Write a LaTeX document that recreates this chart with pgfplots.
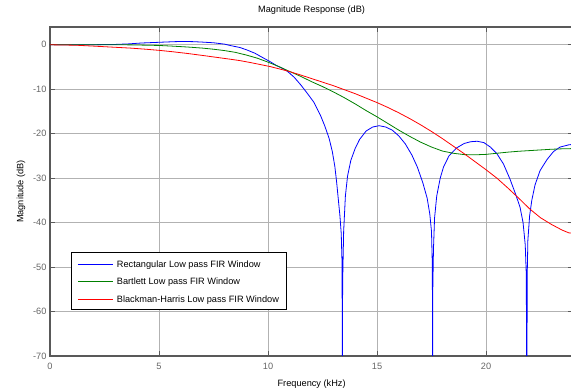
\documentclass[border=0pt]{standalone}
\usepackage{fontspec}
\setmainfont{Liberation Sans}
\usepackage{pgfplots}
\pgfplotsset{compat=1.18}
\usepackage{pgfplotstable}

% Magnitude responses (dB) of three low pass FIR designs, frequency in kHz
\pgfplotstableread{
f db
0 0
1 0
2 0.02
3 0.08
3.6 0.2
4.2 0.4
4.7 0.5
5.2 0.6
5.7 0.7
6.1 0.75
6.6 0.7
7.0 0.6
7.5 0.45
8.0 0.15
8.3 -0.2
8.7 -0.6
9.0 -1.1
9.4 -1.9
9.8 -3.0
10.1 -3.8
10.4 -4.7
10.7 -5.4
10.9 -6.0
11.2 -7.3
11.5 -9.0
11.8 -10.9
12.1 -12.9
12.4 -15.8
12.6 -18.2
12.8 -21.0
12.95 -24.0
13.07 -27.5
13.15 -31
13.23 -35
13.3 -38.5
13.36 -42.5
13.39 -48
13.405 -60
13.41 -95
13.415 -60
13.43 -52
13.47 -42
13.55 -34
13.65 -29.5
13.8 -26
14.0 -23.3
14.2 -21.3
14.5 -19.4
14.8 -18.5
15.1 -18.2
15.4 -18.5
15.7 -19.2
16.0 -20.5
16.3 -22.3
16.6 -24.8
16.85 -27.5
17.1 -31
17.3 -34.5
17.42 -38
17.5 -42
17.54 -50
17.55 -95
17.56 -55
17.59 -46
17.64 -39
17.74 -34
17.9 -30
18.05 -27.5
18.3 -25
18.65 -23.2
19.0 -22.2
19.3 -21.8
19.6 -21.7
19.9 -22
20.2 -23
20.5 -24.5
20.8 -26.8
21.1 -30.2
21.35 -33.5
21.56 -36.5
21.7 -40
21.8 -45
21.85 -52
21.87 -95
21.89 -52
21.92 -44
22.0 -38.5
22.1 -35
22.25 -31.5
22.48 -28.3
22.8 -25.8
23.1 -24
23.4 -23
23.8 -22.5
24.0 -22.4
}\rectwin

\pgfplotstableread{
f db
0 0
1 0
2 0
3 0
3.7 -0.02
4.5 -0.1
5.0 -0.15
5.6 -0.3
6.3 -0.5
7.0 -0.75
7.5 -1.0
8.0 -1.3
8.5 -1.7
9.0 -2.3
9.5 -3.0
10.0 -3.9
10.5 -4.9
10.9 -5.8
11.5 -7.1
12.0 -8.3
12.5 -9.4
13.0 -10.6
13.5 -11.9
14.0 -13.3
14.5 -14.8
15.0 -16.2
15.5 -17.7
16.0 -19.2
16.5 -20.6
17.0 -21.9
17.5 -23.0
18.0 -23.9
18.5 -24.4
19.0 -24.7
19.5 -24.75
20.0 -24.65
20.5 -24.4
21.0 -24.15
21.5 -23.95
22.0 -23.8
22.5 -23.65
23.0 -23.5
23.5 -23.4
24.0 -23.35
}\bartlettwin

\pgfplotstableread{
f db
0 0
1.2 -0.1
2.0 -0.3
2.75 -0.5
3.7 -0.75
4.4 -1.0
5.0 -1.25
5.6 -1.55
6.3 -1.95
7.0 -2.4
7.6 -2.8
8.2 -3.2
8.7 -3.55
9.2 -4.0
9.7 -4.5
10.1 -4.9
10.5 -5.4
10.9 -5.9
11.5 -6.8
12.0 -7.6
12.5 -8.4
13.0 -9.2
13.5 -10.1
14.0 -11.0
14.5 -12.0
15.0 -13.0
15.5 -14.1
16.0 -15.3
16.5 -16.6
17.0 -18.0
17.5 -19.5
18.0 -21.1
18.5 -22.8
19.0 -24.5
19.5 -26.3
20.0 -28.1
20.5 -30.0
21.0 -32.2
21.5 -34.5
22.0 -36.9
22.5 -38.9
23.0 -40.4
23.5 -41.7
23.8 -42.3
24.0 -42.4
}\bharriswin

\newcommand\lblfont{\fontsize{9.2bp}{11bp}\selectfont}
\tikzset{
  legtext/.style={font=\lblfont, anchor=base west, inner sep=0bp},
}

\begin{document}
\begin{tikzpicture}
\begin{axis}[
  scale only axis,
  width=523.2bp, height=329bp,
  xmin=0, xmax=24, ymin=-70, ymax=4,
  xtick={0,5,...,20}, ytick={-70,-60,...,0},
  grid=major,
  major grid style={black!30, line width=0.6bp},
  axis line style={black!65, line width=1.1bp},
  major tick length=5bp,
  tick style={black!65, line width=0.6bp},
  tick align=inside,
  /pgf/number format/assume math mode=true,
  ticklabel style={font=\lblfont, text=black!60},
  xticklabel style={yshift=-4bp},
  title={Magnitude Response (dB)},
  title style={font=\lblfont, at={(axis description cs:0.5,1.02644)}, anchor=base},
  xlabel={Frequency (kHz)},
  xlabel style={font=\lblfont, at={(axis description cs:0.5,-0.0912)}, anchor=base},
  ylabel={Magnitude (dB)},
  ylabel style={font=\lblfont, at={(axis description cs:-0.05103,0.5)}, anchor=base},
]
\addplot[blue, line width=0.8bp] table[x=f, y=db] {\rectwin};
\addplot[green!50!black, line width=0.8bp] table[x=f, y=db] {\bartlettwin};
\addplot[red, line width=0.8bp] table[x=f, y=db] {\bharriswin};

% legend: white box, then a short sample of each series' line and its label
\draw[black, line width=0.8bp, fill=white]
  (axis description cs:0.0401,0.1429) rectangle (axis description cs:0.4511,0.3140);
\addplot[blue, line width=0.8bp, forget plot] coordinates {(1.284,-49.31) (2.890,-49.31)};
\addplot[green!50!black, line width=0.8bp, forget plot] coordinates {(1.284,-53.20) (2.890,-53.20)};
\addplot[red, line width=0.8bp, forget plot] coordinates {(1.284,-57.18) (2.890,-57.18)};
\node[legtext] at (axis description cs:0.1275,0.2696) {Rectangular Low pass FIR Window};
\node[legtext] at (axis description cs:0.1275,0.2170) {Bartlett Low pass FIR Window};
\node[legtext] at (axis description cs:0.1275,0.1632) {Blackman-Harris Low pass FIR Window};
\end{axis}
\pgfresetboundingbox
\path[use as bounding box] ([shift={(-50bp,-33bp)}]current axis.south west)
  rectangle ([shift={(521bp,356bp)}]current axis.south west);
\end{tikzpicture}
\end{document}
